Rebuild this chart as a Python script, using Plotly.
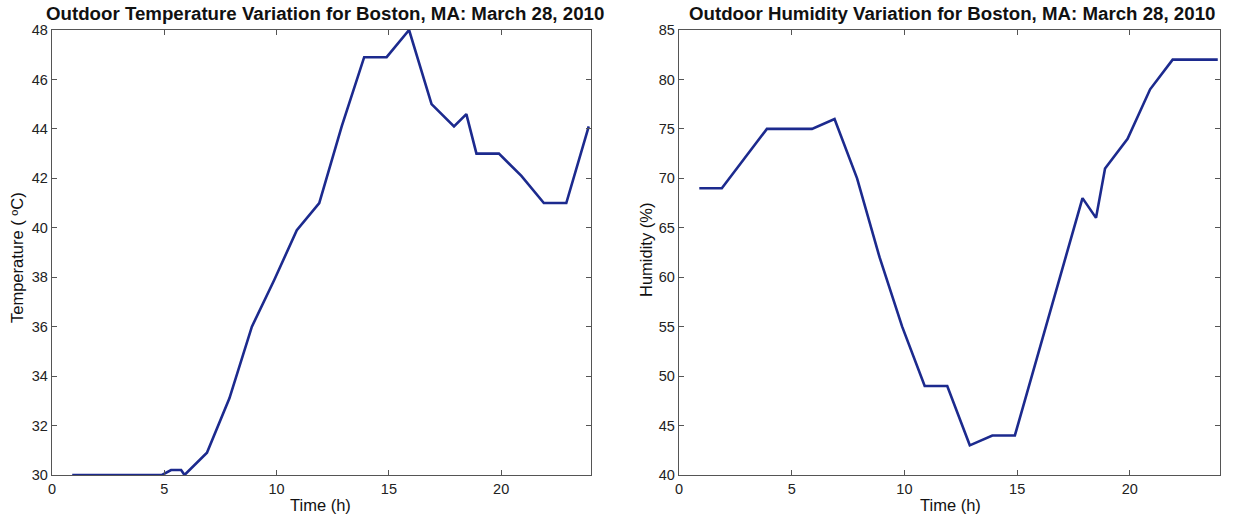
import plotly.graph_objects as go

# Hourly observations (taken at :54 past each hour, plus specials)
temp_time = [0.9, 1.9, 2.9, 3.9, 4.9, 5.3, 5.75, 5.9, 6.9, 7.9, 8.9, 9.9, 10.9,
             11.9, 12.9, 13.9, 14.9, 15.9, 16.9, 17.9, 18.45, 18.9, 19.9, 20.9,
             21.9, 22.9, 23.9]
temperature = [30.0, 30.0, 30.0, 30.0, 30.0, 30.2, 30.2, 30.0, 30.9, 33.1, 36.0,
               37.9, 39.9, 41.0, 44.1, 46.9, 46.9, 48.0, 45.0, 44.1, 44.6, 43.0,
               43.0, 42.1, 41.0, 41.0, 44.1]

hum_time = [0.9, 1.9, 2.9, 3.9, 4.9, 5.9, 6.9, 7.9, 8.9, 9.9, 10.9, 11.9, 12.9,
            13.9, 14.9, 15.9, 16.9, 17.9, 18.5, 18.9, 19.9, 20.9, 21.9, 22.9, 23.9]
humidity = [69, 69, 72, 75, 75, 75, 76, 70, 62, 55, 49, 49, 43, 44, 44, 52, 60,
            68, 66, 71, 74, 79, 82, 82, 82]

x_ticks = [0, 5, 10, 15, 20]
temp_ticks = [30, 32, 34, 36, 38, 40, 42, 44, 46, 48]
hum_ticks = [40, 45, 50, 55, 60, 65, 70, 75, 80, 85]

LINE = "#1c2a8e"
FRAME = "#555555"
FONT = "Liberation Sans, Arial, sans-serif"

W, H = 1235, 519
left_dom = [52 / W, 591 / W]
right_dom = [679 / W, 1220 / W]
y_dom = [(H - 475) / H, (H - 30) / H]

fig = go.Figure()
fig.add_trace(go.Scatter(x=temp_time, y=temperature, mode="lines",
                         line=dict(color=LINE, width=2.6), xaxis="x", yaxis="y",
                         showlegend=False))
fig.add_trace(go.Scatter(x=hum_time, y=humidity, mode="lines",
                         line=dict(color=LINE, width=2.6), xaxis="x2", yaxis="y2",
                         showlegend=False))

axis_common = dict(showgrid=False, zeroline=False, showline=True, linecolor=FRAME,
                   linewidth=1.3, mirror="allticks", ticks="inside", ticklen=5,
                   tickcolor=FRAME, tickwidth=1, automargin=False,
                   tickfont=dict(family=FONT, size=14.5, color="#222222"))

fig.update_layout(
    width=W, height=H,
    margin=dict(l=0, r=0, t=0, b=0, pad=0),
    paper_bgcolor="white", plot_bgcolor="white",
    xaxis=dict(domain=left_dom, range=[0, 24], tickvals=x_ticks, anchor="y",
               **axis_common),
    yaxis=dict(domain=y_dom, range=[30, 48], tickvals=temp_ticks, anchor="x",
               **axis_common),
    xaxis2=dict(domain=right_dom, range=[0, 24], tickvals=x_ticks, anchor="y2",
                **axis_common),
    yaxis2=dict(domain=y_dom, range=[40, 85], tickvals=hum_ticks, anchor="x2",
                **axis_common),
)

title_font = dict(family=FONT, size=18.7, color="#111111")
label_font = dict(family=FONT, size=16.5, color="#111111")

annotations = [
    dict(text="<b>Outdoor Temperature Variation for Boston, MA: March 28, 2010</b>",
         x=325 / W, y=1 - 13 / H, font=title_font),
    dict(text="<b>Outdoor Humidity Variation for Boston, MA: March 28, 2010</b>",
         x=952 / W, y=1 - 13 / H, font=title_font),
    dict(text="Time (h)", x=320 / W, y=1 - 505 / H, font=label_font),
    dict(text="Time (h)", x=950 / W, y=1 - 505 / H, font=label_font),
    dict(text="Temperature ( ºC)", x=17 / W, y=1 - 258 / H, font=label_font,
         textangle=-90),
    dict(text="Humidity (%)", x=646 / W, y=1 - 250 / H, font=label_font,
         textangle=-90),
]
for a in annotations:
    fig.add_annotation(xref="paper", yref="paper", showarrow=False,
                       xanchor="center", yanchor="middle", **a)

fig.write_html("out.html")
